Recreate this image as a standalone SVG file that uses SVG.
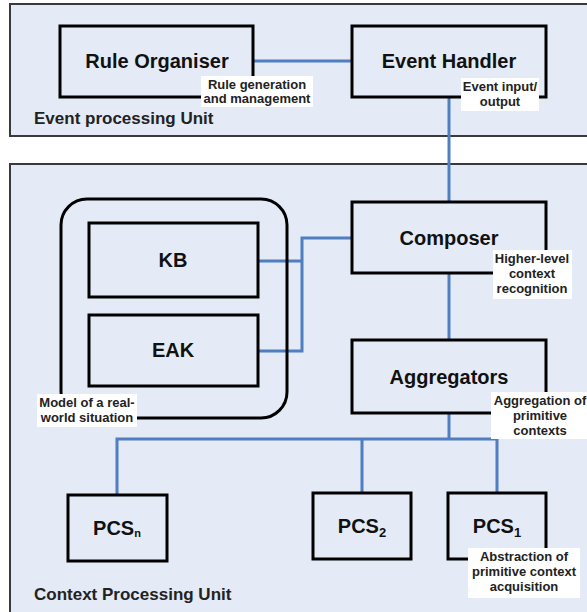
<svg xmlns="http://www.w3.org/2000/svg" width="587" height="612" viewBox="0 0 587 612">
<style>
.panel{fill:#e4ebf6;stroke:#3a3a3a;stroke-width:2}
.box{fill:none;stroke:#000;stroke-width:3}
.conn{fill:none;stroke:#4f7fc1;stroke-width:3}
.lbg{fill:#fff}
.t{font-family:"Liberation Sans",Arial,sans-serif;font-weight:bold;fill:#111;text-anchor:middle}
.big{font-size:20px}
.sm{font-size:13px;fill:#222}
.unit{font-family:"Liberation Sans",Arial,sans-serif;font-weight:bold;font-size:17px;fill:#222}
</style>
<rect x="0" y="0" width="587" height="612" fill="#fff"/>
<rect class="panel" x="10" y="4" width="590" height="132"/>
<rect class="panel" x="10" y="164" width="590" height="460"/>
<text class="unit" x="34" y="124">Event processing Unit</text>
<text class="unit" x="34" y="600">Context Processing Unit</text>
<g id="connectors">
<line class="conn" x1="253" y1="61" x2="352" y2="61"/>
<line class="conn" x1="449" y1="97" x2="449" y2="202"/>
<polyline class="conn" points="258,261 302,261"/>
<polyline class="conn" points="258,351 302,351 302,238 352,238"/>
<line class="conn" x1="449" y1="273" x2="449" y2="340"/>
<line class="conn" x1="449" y1="413" x2="449" y2="439"/>
<polyline class="conn" points="117,495 117,439 497,439 497,494"/>
<line class="conn" x1="362" y1="439" x2="362" y2="493"/>
</g>
<g id="model">
<rect class="box" x="61" y="199" width="226" height="219" rx="26"/>
<rect class="lbg" x="37" y="394" width="100" height="33"/>
<text class="t sm" x="87" y="407">Model of a real-</text>
<text class="t sm" x="87" y="422">world situation</text>
</g>
<g id="rule-organiser">
<rect class="box" x="60" y="26" width="193" height="71"/>
<text class="t big" x="157" y="68">Rule Organiser</text>
<rect class="lbg" x="201" y="76" width="112" height="31"/>
<text class="t sm" x="257" y="89">Rule generation</text>
<text class="t sm" x="257" y="103">and management</text>
</g>
<g id="event-handler">
<rect class="box" x="352" y="26" width="194" height="71"/>
<text class="t big" x="449" y="68">Event Handler</text>
<rect class="lbg" x="461" y="78" width="78" height="33"/>
<text class="t sm" x="500" y="91">Event input/</text>
<text class="t sm" x="500" y="106">output</text>
</g>
<g id="kb">
<rect class="box" x="89" y="223" width="169" height="74"/>
<text class="t big" x="173" y="267">KB</text>
</g>
<g id="eak">
<rect class="box" x="89" y="315" width="169" height="71"/>
<text class="t big" x="173" y="357">EAK</text>
</g>
<g id="composer">
<rect class="box" x="352" y="202" width="194" height="71"/>
<text class="t big" x="449" y="245">Composer</text>
<rect class="lbg" x="493" y="250" width="79" height="49"/>
<text class="t sm" x="532" y="263">Higher-level</text>
<text class="t sm" x="532" y="278">context</text>
<text class="t sm" x="532" y="293">recognition</text>
</g>
<g id="aggregators">
<rect class="box" x="352" y="340" width="194" height="73"/>
<text class="t big" x="449" y="384">Aggregators</text>
<rect class="lbg" x="491" y="392" width="100" height="47"/>
<text class="t sm" x="540" y="405">Aggregation of</text>
<text class="t sm" x="540" y="420">primitive</text>
<text class="t sm" x="540" y="435">contexts</text>
</g>
<g id="pcsn">
<rect class="box" x="68" y="495" width="99" height="66"/>
<text class="t big" x="117" y="535">PCS<tspan font-size="11" dy="2">n</tspan></text>
</g>
<g id="pcs2">
<rect class="box" x="313" y="493" width="98" height="66"/>
<text class="t big" x="362" y="533">PCS<tspan font-size="13" dy="4">2</tspan></text>
</g>
<g id="pcs1">
<rect class="box" x="448" y="493" width="98" height="66"/>
<text class="t big" x="497" y="533">PCS<tspan font-size="13" dy="4">1</tspan></text>
<rect class="lbg" x="468" y="548" width="112" height="50"/>
<text class="t sm" x="524" y="561">Abstraction of</text>
<text class="t sm" x="524" y="576">primitive context</text>
<text class="t sm" x="524" y="591">acquisition</text>
</g>
</svg>
